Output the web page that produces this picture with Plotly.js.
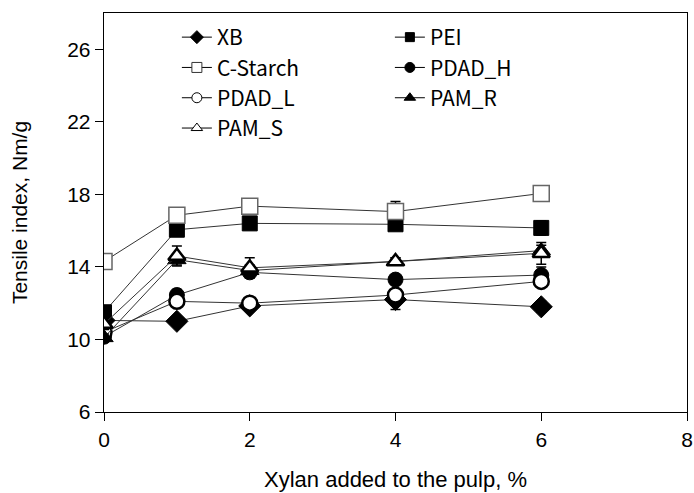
<!DOCTYPE html>
<html>
<head>
<meta charset="utf-8">
<script src="https://cdn.plot.ly/plotly-3.0.1.min.js"></script>
<style>html,body{margin:0;padding:0;background:#fff;}#chart{width:694px;height:493px;}</style>
</head>
<body>
<div id="chart"></div>
<script>
// Data
const xylan = [0, 1, 2, 4, 6];
const seriesNames = ["XB", "PEI", "C-Starch", "PDAD_H", "PDAD_L", "PAM_R", "PAM_S"];
const XB      = [11.05, 11.0, 11.85, 12.2, 11.8];
const PEI     = [11.5, 16.05, 16.4, 16.35, 16.15];
const CStarch = [14.3, 16.85, 17.35, 17.05, 18.05];
const PDAD_H  = [10.15, 12.45, 13.7, 13.3, 13.55];
const PDAD_L  = [10.4, 12.1, 12.0, 12.45, 13.2];
const PAM_R   = [10.1, 14.4, 13.8, 14.3, 14.9];
const PAM_S   = [10.85, 14.6, 13.95, 14.3, 14.75];
// error bar half-lengths
const XB_err      = [0.2, 0.2, 0.2, 0.55, 0.3];
const PEI_err     = [0.3, 0.3, 0.3, 0.3, 0.4];
const CStarch_err = [0.2, 0.3, 0.3, 0.55, 0.2];
const PDAD_H_err  = [0.2, 0.3, 0.3, 0.2, 0.45];
const PDAD_L_err  = [0.2, 0.2, 0.2, 0.2, 0.3];
const PAM_R_err   = [0.2, 0.3, 0.3, 0.2, 0.3];
const PAM_S_err   = [0.3, 0.55, 0.55, 0.2, 0.6];
const xTicks = [0, 2, 4, 6, 8];
const yTicks = [6, 10, 14, 18, 22, 26];

const values = [XB, PEI, CStarch, PDAD_H, PDAD_L, PAM_R, PAM_S];
const errors = [XB_err, PEI_err, CStarch_err, PDAD_H_err, PDAD_L_err, PAM_R_err, PAM_S_err];

// styles
const styles = [
  {symbol: "diamond", size: 17, color: "#000", lc: "#000", lw: 1, lgSize: 10},
  {symbol: "square", size: 15, color: "#000", lc: "#000", lw: 1, lgSize: 9},
  {symbol: "square", size: 16, color: "#fff", lc: "#666", lw: 1.5, lgSize: 10},
  {symbol: "circle", size: 15, color: "#000", lc: "#000", lw: 1, lgSize: 10},
  {symbol: "circle", size: 15, color: "#fff", lc: "#000", lw: 2.5, lgSize: 10},
  {symbol: "triangle-up", size: 16, color: "#000", lc: "#000", lw: 1, lgSize: 10},
  {symbol: "triangle-up", size: 15, color: "#fff", lc: "#000", lw: 2.5, lgSize: 10}
];

const traces = [];
seriesNames.forEach((name, i) => {
  const s = styles[i];
  traces.push({
    x: xylan, y: values[i], name: name, type: "scatter", mode: "lines+markers",
    showlegend: false,
    line: {color: "#333", width: 1},
    marker: {symbol: s.symbol, size: s.size, color: s.color, line: {color: s.lc, width: s.lw}},
    error_y: {type: "data", array: errors[i], visible: true, color: "#000", thickness: 1.5, width: 5}
  });
});
seriesNames.forEach((name, i) => {
  const s = styles[i];
  traces.push({
    x: [null], y: [null], name: name, type: "scatter", mode: "lines+markers",
    showlegend: true,
    line: {color: "#000", width: 1},
    marker: {symbol: s.symbol, size: s.lgSize, color: s.color, line: {color: s.lc === "#666" ? "#333" : "#000", width: 1}}
  });
});

const axisFont = {family: "Liberation Sans, Arial, sans-serif", size: 21, color: "#000"};
const xTitleFont = {family: "Liberation Sans, Arial, sans-serif", size: 22, color: "#000"};

const layout = {
  width: 694, height: 493,
  margin: {l: 104, r: 7, t: 13, b: 81},
  paper_bgcolor: "#fff", plot_bgcolor: "#fff",
  showlegend: true,
  legend: {
    orientation: "h", x: 0.125, xanchor: "left", y: 0.99, yanchor: "top",
    entrywidth: 168, entrywidthmode: "pixels",
    font: {family: "Noto Sans CJK KR, Noto Sans, sans-serif", size: 21, color: "#000"},
    bgcolor: "rgba(0,0,0,0)", tracegroupgap: 0, traceorder: "normal"
  },
  xaxis: {
    range: [0, 8], tickvals: xTicks, ticktext: xTicks.map(String),
    showgrid: false, zeroline: false,
    showline: true, linecolor: "#000", linewidth: 1.3, mirror: true,
    ticks: "outside", ticklen: 8, tickwidth: 1, tickcolor: "#000",
    tickfont: axisFont,
    title: {text: "Xylan added to the pulp, %", font: xTitleFont, standoff: 22}
  },
  yaxis: {
    range: [6, 28], tickvals: yTicks, ticktext: yTicks.map(String),
    showgrid: false, zeroline: false,
    showline: true, linecolor: "#000", linewidth: 1.3, mirror: true,
    ticks: "outside", ticklen: 8, tickwidth: 1, tickcolor: "#000",
    tickfont: axisFont,
    title: {text: "Tensile index, Nm/g", font: axisFont, standoff: 33}
  }
};

Plotly.newPlot("chart", traces, layout, {displayModeBar: false, staticPlot: true});
</script>
</body>
</html>
